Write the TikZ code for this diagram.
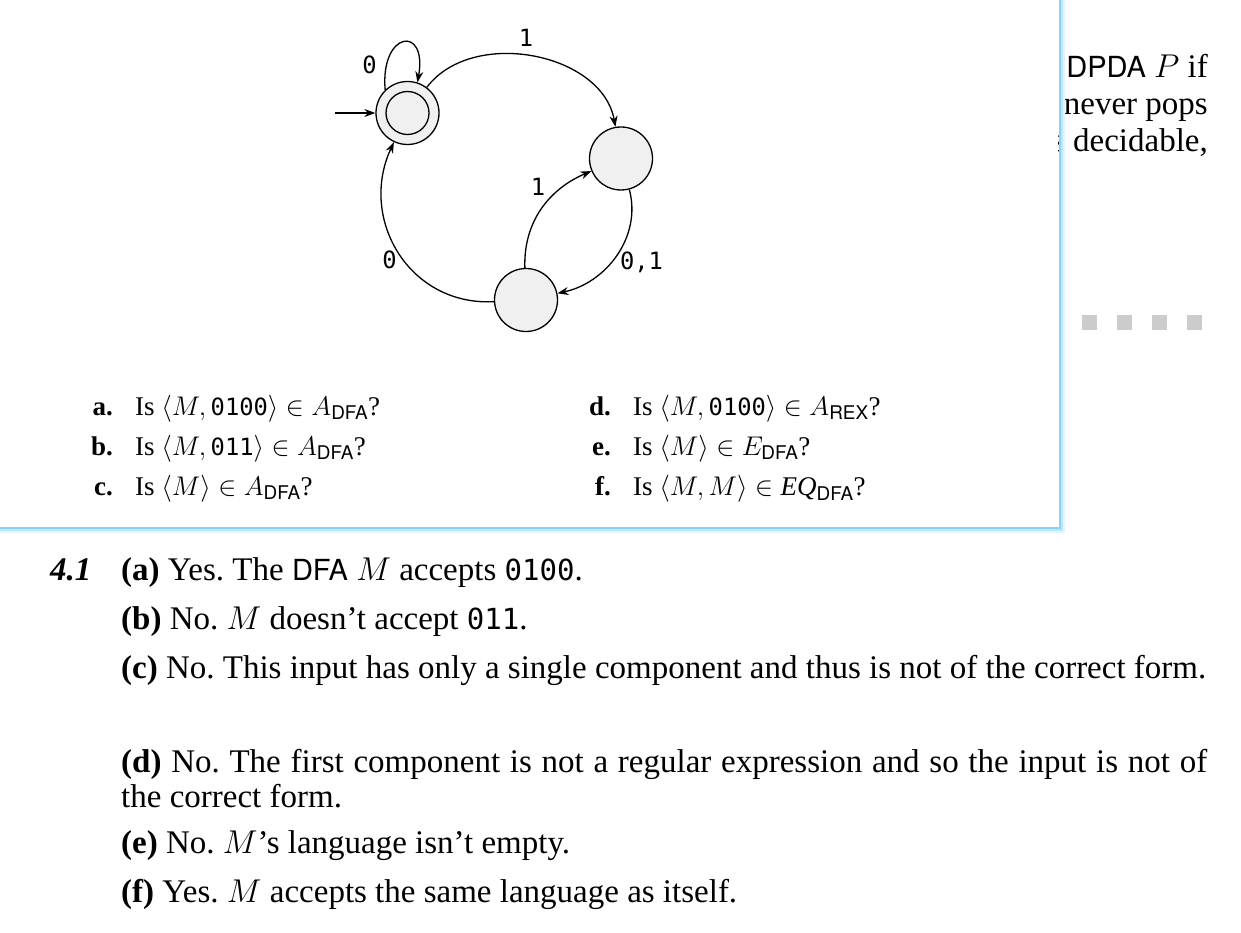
\RequirePackage{fix-cm}
\documentclass[tikz,border=0pt]{standalone}
\usepackage{amsmath}
\usepackage{fontspec}
\setmainfont{Liberation Serif}
\setsansfont{TeX Gyre Heros}[Scale=0.88]
\setmonofont{DejaVu Sans Mono}[Scale=0.88]
\newfontfamily\subsf{TeX Gyre Heros}
\usetikzlibrary{arrows.meta}

\definecolor{statefill}{RGB}{240,240,240}
\definecolor{panelblue}{RGB}{140,210,248}
\definecolor{navgray}{RGB}{204,204,204}

\newcommand{\sfsub}[1]{\text{\subsf #1}}
\frenchspacing

\begin{document}
\begin{tikzpicture}[x=1pt,y=1pt,>={Stealth[length=11pt,width=8pt]},
  state/.style={circle,draw,line width=1.3pt,fill=statefill,minimum size=63pt,inner sep=0pt},
  edge/.style={->,line width=1.3pt},
  lab/.style={font=\fontsize{27}{30}\selectfont\ttfamily},
  qlabel/.style={anchor=base east,inner sep=0pt,font=\fontsize{27}{32}\selectfont\bfseries},
  qtext/.style={anchor=base west,inner sep=0pt,font=\fontsize{27}{32}\selectfont},
  ans/.style={anchor=base west,inner sep=0pt,font=\fontsize{33}{38}\selectfont}]
  \useasboundingbox (0,0) rectangle (1241,-933);
  \fill[white] (0,0) rectangle (1241,-933);

  % page text behind the panel
  \node[ans,anchor=base east] (bg1) at (1208,-78) {\textsf{DPDA} $P$ if};
  \node[ans,anchor=base east] (bg2) at (1208,-115) {never pops};
  \node[ans,anchor=base east] (bg3) at (1208,-152) {s decidable,};
  \foreach \i in {0,...,3}
    \fill[navgray] (1082+35*\i,-315) rectangle +(15,-15);

  % the panel
  \fill[white] (0,0) rectangle (1058,-527);
  \draw[panelblue!25,line width=2pt] (0,-532) -- (1064,-532) -- (1064,0);
  \draw[panelblue!55,line width=2pt] (0,-530) -- (1062,-530) -- (1062,0);
  \draw[panelblue,line width=2pt] (0,-528) -- (1060,-528) -- (1060,0);

  % the DFA M
  \node[state] (q1) at (407.5,-113) {};
  \draw[line width=1.3pt] (q1.center) circle (21.5);
  \node[state] (q2) at (621,-158.5) {};
  \node[state] (q3) at (526,-300) {};
  \coordinate (start) at (335,-113);

  \draw[edge] (start) -- (q1);
  \draw[edge] (q1.134) .. controls +(95:59) and +(80:59) .. (q1.72)
    node[lab,pos=0.17,left=6pt] {0};
  \draw[edge] (q1) to[out=53,in=100] node[lab,pos=0.47,above=5pt] {1} (q2);
  \draw[edge] (q2) to[out=-75,in=12] node[lab,pos=0.56,right=5pt] {0,1} (q3);
  \draw[edge] (q3) to[out=92,in=203] node[lab,pos=0.6,above left] {1} (q2);
  \draw[edge] (q3) to[out=183,in=245,looseness=1.15] node[lab,pos=0.46,left=3pt] {0} (q1);

  % the questions
  \node[qlabel] (qa) at (113,-415) {a.};
  \node[qtext] (ta) at (135,-415) {Is $\langle M,\texttt{0100}\rangle\in A_{\sfsub{DFA}}$?};
  \node[qlabel] (qb) at (113,-455) {b.};
  \node[qtext] (tb) at (135,-455) {Is $\langle M,\texttt{011}\rangle\in A_{\sfsub{DFA}}$?};
  \node[qlabel] (qc) at (113,-495) {c.};
  \node[qtext] (tc) at (135,-495) {Is $\langle M\rangle\in A_{\sfsub{DFA}}$?};
  \node[qlabel] (qd) at (611,-415) {d.};
  \node[qtext] (td) at (633,-415) {Is $\langle M,\texttt{0100}\rangle\in A_{\sfsub{REX}}$?};
  \node[qlabel] (qe) at (611,-455) {e.};
  \node[qtext] (te) at (633,-455) {Is $\langle M\rangle\in E_{\sfsub{DFA}}$?};
  \node[qlabel] (qf) at (611,-495) {f.};
  \node[qtext] (tf) at (633,-495) {Is $\langle M,M\rangle\in \mathit{EQ}_{\sfsub{DFA}}$?};

  % the answers
  \node[ans,font=\fontsize{33}{38}\selectfont\bfseries\itshape] (num) at (50,-580) {4.1};
  \node[ans] (aa) at (121,-580) {\textbf{(a)} Yes. The \textsf{DFA} $M$ accepts \texttt{0100}.};
  \node[ans] (ab) at (121,-629) {\textbf{(b)} No. $M$ doesn't accept \texttt{011}.};
  \node[ans] (ac) at (121,-678) {\textbf{(c)} No. This input has only a single component and thus is not of the correct form.};
  \node[ans] (ad) at (121,-772) {\hbox to 1086pt{\textbf{(d)} No. The first component is not a regular expression and so the input is not of}};
  \node[ans] (ad2) at (121,-807) {the correct form.};
  \node[ans] (ae) at (121,-853) {\textbf{(e)} No. $M$'s language isn't empty.};
  \node[ans] (af) at (121,-902) {\textbf{(f)} Yes. $M$ accepts the same language as itself.};
\end{tikzpicture}
\end{document}
